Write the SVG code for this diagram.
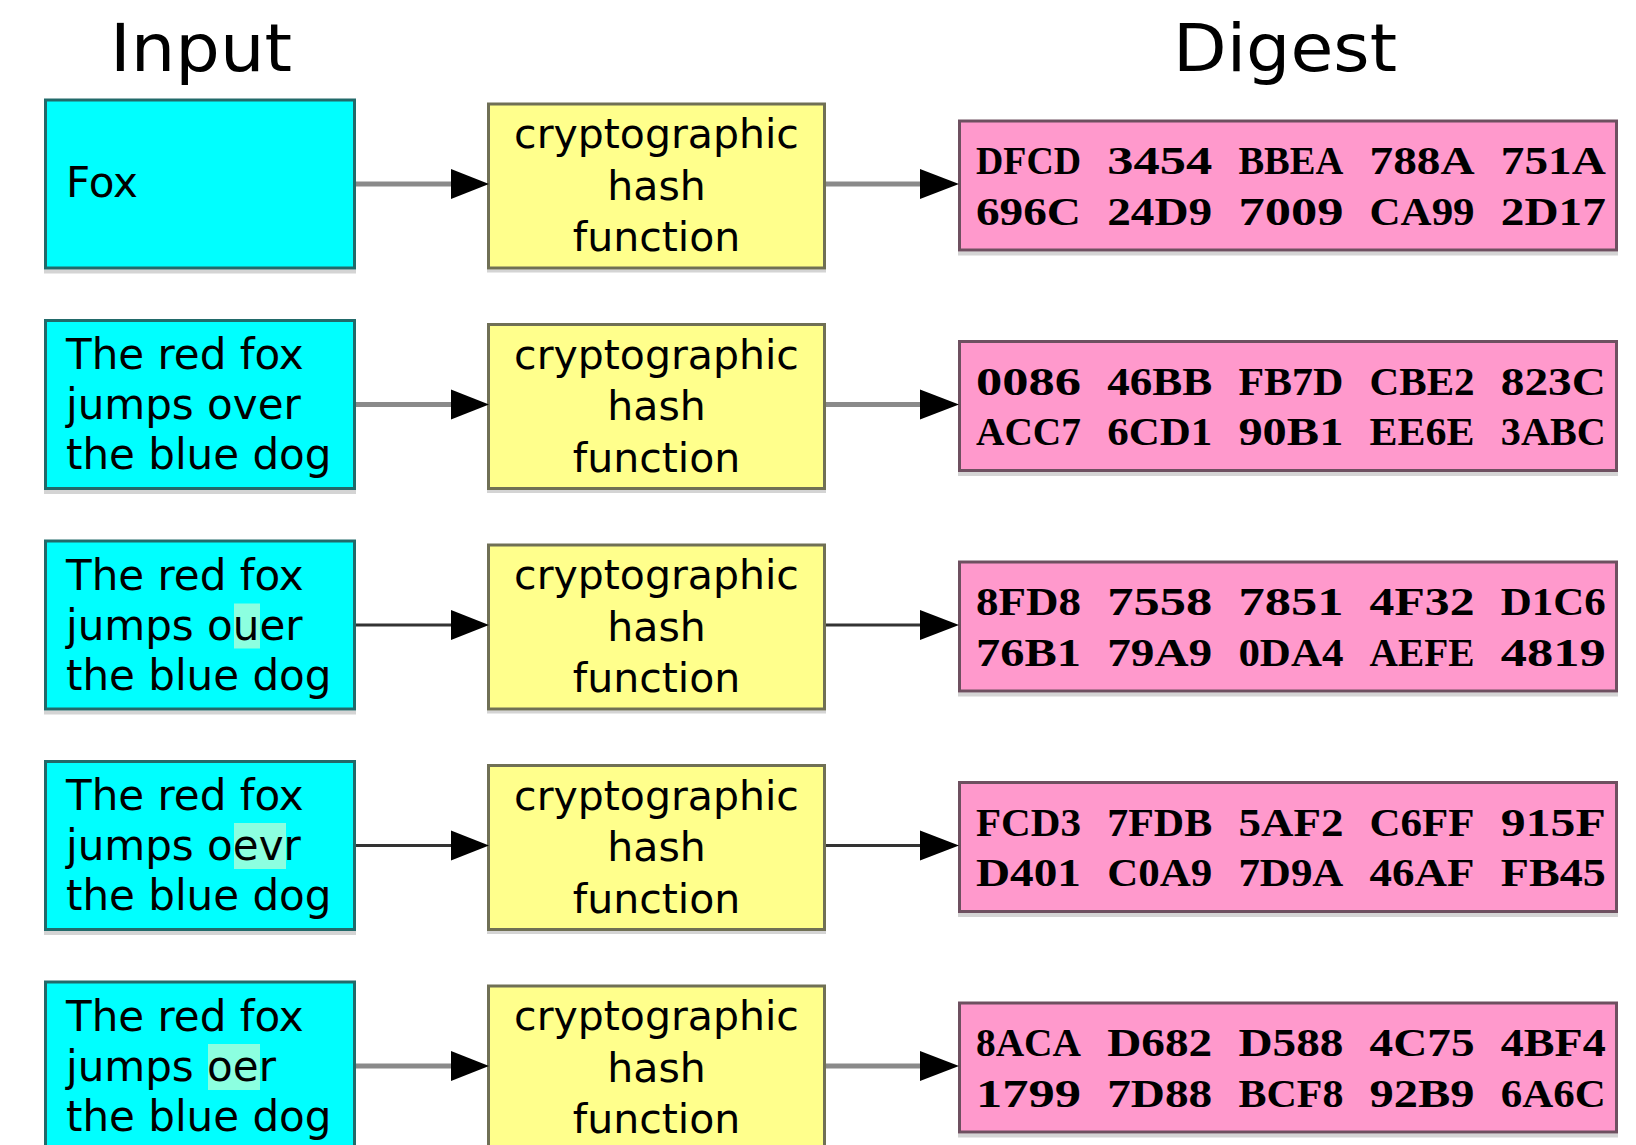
<svg xmlns="http://www.w3.org/2000/svg" width="1636" height="1145" viewBox="0 0 1636 1145">
<style>
.bg{fill:#ffffff}
.title{font-family:"DejaVu Sans","Liberation Sans",sans-serif;font-size:66px;fill:#000;text-anchor:middle}
.in{fill:#00ffff;stroke:#226a6a;stroke-width:3}
.fn{fill:#ffff8c;stroke:#707055;stroke-width:3}
.dg{fill:#ff99cc;stroke:#6e5060;stroke-width:3}
.sh{fill:#d4d4d4}
.t{font-family:"DejaVu Sans","Liberation Sans",sans-serif;font-size:42px;fill:#000}
.ft{font-family:"DejaVu Sans","Liberation Sans",sans-serif;font-size:41px;fill:#000;text-anchor:middle}
.hx{font-family:"Liberation Serif","Times New Roman",serif;font-size:40px;font-weight:bold;fill:#000}
.hl{fill:#8cffe0}
.lg{stroke:#8a8a8a;stroke-width:5;fill:none}
.ld{stroke:#333333;stroke-width:3;fill:none}
.head{fill:#000}
</style>
<rect class="bg" x="0" y="0" width="1636" height="1145"/>
<text class="title" x="201" y="71" textLength="182" lengthAdjust="spacingAndGlyphs">Input</text>
<text class="title" x="1285" y="71" textLength="224" lengthAdjust="spacingAndGlyphs">Digest</text>

<!-- Row 1 -->
<g id="input1" transform="translate(0,98.5)">
<rect class="sh" x="44" y="171" width="312" height="4"/>
<rect class="in" x="45.5" y="1.5" width="309" height="168"/>
<text class="t" x="66" y="98">Fox</text>
</g>
<g id="hash1" transform="translate(0,98.5)">
<rect class="sh" x="487" y="171" width="339" height="3"/>
<rect class="fn" x="488.5" y="5.5" width="336" height="164"/>
<text class="ft" x="656.5" y="49.5">cryptographic</text>
<text class="ft" x="656.5" y="101">hash</text>
<text class="ft" x="656.5" y="152.5">function</text>
</g>
<g id="digest1" transform="translate(0,98.5)">
<rect class="sh" x="958" y="153" width="660" height="4"/>
<rect class="dg" x="959.5" y="22.5" width="657" height="129"/>
<text class="hx" x="976" y="75.5" textLength="105" lengthAdjust="spacingAndGlyphs">DFCD</text>
<text class="hx" x="1107.2" y="75.5" textLength="105" lengthAdjust="spacingAndGlyphs">3454</text>
<text class="hx" x="1238.4" y="75.5" textLength="105" lengthAdjust="spacingAndGlyphs">BBEA</text>
<text class="hx" x="1369.6" y="75.5" textLength="105" lengthAdjust="spacingAndGlyphs">788A</text>
<text class="hx" x="1500.8" y="75.5" textLength="105" lengthAdjust="spacingAndGlyphs">751A</text>
<text class="hx" x="976" y="126" textLength="105" lengthAdjust="spacingAndGlyphs">696C</text>
<text class="hx" x="1107.2" y="126" textLength="105" lengthAdjust="spacingAndGlyphs">24D9</text>
<text class="hx" x="1238.4" y="126" textLength="105" lengthAdjust="spacingAndGlyphs">7009</text>
<text class="hx" x="1369.6" y="126" textLength="105" lengthAdjust="spacingAndGlyphs">CA99</text>
<text class="hx" x="1500.8" y="126" textLength="105" lengthAdjust="spacingAndGlyphs">2D17</text>
</g>

<!-- Row 2 -->
<g id="input2" transform="translate(0,319)">
<rect class="sh" x="44" y="171" width="312" height="4"/>
<rect class="in" x="45.5" y="1.5" width="309" height="168"/>
<text class="t" x="66" y="50">The red fox</text>
<text class="t" x="66" y="100">jumps over</text>
<text class="t" x="66" y="150">the blue dog</text>
</g>
<g id="hash2" transform="translate(0,319)">
<rect class="sh" x="487" y="171" width="339" height="3"/>
<rect class="fn" x="488.5" y="5.5" width="336" height="164"/>
<text class="ft" x="656.5" y="49.5">cryptographic</text>
<text class="ft" x="656.5" y="101">hash</text>
<text class="ft" x="656.5" y="152.5">function</text>
</g>
<g id="digest2" transform="translate(0,319)">
<rect class="sh" x="958" y="153" width="660" height="4"/>
<rect class="dg" x="959.5" y="22.5" width="657" height="129"/>
<text class="hx" x="976" y="75.5" textLength="105" lengthAdjust="spacingAndGlyphs">0086</text>
<text class="hx" x="1107.2" y="75.5" textLength="105" lengthAdjust="spacingAndGlyphs">46BB</text>
<text class="hx" x="1238.4" y="75.5" textLength="105" lengthAdjust="spacingAndGlyphs">FB7D</text>
<text class="hx" x="1369.6" y="75.5" textLength="105" lengthAdjust="spacingAndGlyphs">CBE2</text>
<text class="hx" x="1500.8" y="75.5" textLength="105" lengthAdjust="spacingAndGlyphs">823C</text>
<text class="hx" x="976" y="126" textLength="105" lengthAdjust="spacingAndGlyphs">ACC7</text>
<text class="hx" x="1107.2" y="126" textLength="105" lengthAdjust="spacingAndGlyphs">6CD1</text>
<text class="hx" x="1238.4" y="126" textLength="105" lengthAdjust="spacingAndGlyphs">90B1</text>
<text class="hx" x="1369.6" y="126" textLength="105" lengthAdjust="spacingAndGlyphs">EE6E</text>
<text class="hx" x="1500.8" y="126" textLength="105" lengthAdjust="spacingAndGlyphs">3ABC</text>
</g>

<!-- Row 3 -->
<g id="input3" transform="translate(0,539.5)">
<rect class="sh" x="44" y="171" width="312" height="4"/>
<rect class="in" x="45.5" y="1.5" width="309" height="168"/>
<rect class="hl" x="234" y="64" width="26" height="45"/>
<text class="t" x="66" y="50">The red fox</text>
<text class="t" x="66" y="100">jumps ouer</text>
<text class="t" x="66" y="150">the blue dog</text>
</g>
<g id="hash3" transform="translate(0,539.5)">
<rect class="sh" x="487" y="171" width="339" height="3"/>
<rect class="fn" x="488.5" y="5.5" width="336" height="164"/>
<text class="ft" x="656.5" y="49.5">cryptographic</text>
<text class="ft" x="656.5" y="101">hash</text>
<text class="ft" x="656.5" y="152.5">function</text>
</g>
<g id="digest3" transform="translate(0,539.5)">
<rect class="sh" x="958" y="153" width="660" height="4"/>
<rect class="dg" x="959.5" y="22.5" width="657" height="129"/>
<text class="hx" x="976" y="75.5" textLength="105" lengthAdjust="spacingAndGlyphs">8FD8</text>
<text class="hx" x="1107.2" y="75.5" textLength="105" lengthAdjust="spacingAndGlyphs">7558</text>
<text class="hx" x="1238.4" y="75.5" textLength="105" lengthAdjust="spacingAndGlyphs">7851</text>
<text class="hx" x="1369.6" y="75.5" textLength="105" lengthAdjust="spacingAndGlyphs">4F32</text>
<text class="hx" x="1500.8" y="75.5" textLength="105" lengthAdjust="spacingAndGlyphs">D1C6</text>
<text class="hx" x="976" y="126" textLength="105" lengthAdjust="spacingAndGlyphs">76B1</text>
<text class="hx" x="1107.2" y="126" textLength="105" lengthAdjust="spacingAndGlyphs">79A9</text>
<text class="hx" x="1238.4" y="126" textLength="105" lengthAdjust="spacingAndGlyphs">0DA4</text>
<text class="hx" x="1369.6" y="126" textLength="105" lengthAdjust="spacingAndGlyphs">AEFE</text>
<text class="hx" x="1500.8" y="126" textLength="105" lengthAdjust="spacingAndGlyphs">4819</text>
</g>

<!-- Row 4 -->
<g id="input4" transform="translate(0,760)">
<rect class="sh" x="44" y="171" width="312" height="4"/>
<rect class="in" x="45.5" y="1.5" width="309" height="168"/>
<rect class="hl" x="234" y="63" width="52" height="46"/>
<text class="t" x="66" y="50">The red fox</text>
<text class="t" x="66" y="100">jumps oevr</text>
<text class="t" x="66" y="150">the blue dog</text>
</g>
<g id="hash4" transform="translate(0,760)">
<rect class="sh" x="487" y="171" width="339" height="3"/>
<rect class="fn" x="488.5" y="5.5" width="336" height="164"/>
<text class="ft" x="656.5" y="49.5">cryptographic</text>
<text class="ft" x="656.5" y="101">hash</text>
<text class="ft" x="656.5" y="152.5">function</text>
</g>
<g id="digest4" transform="translate(0,760)">
<rect class="sh" x="958" y="153" width="660" height="4"/>
<rect class="dg" x="959.5" y="22.5" width="657" height="129"/>
<text class="hx" x="976" y="75.5" textLength="105" lengthAdjust="spacingAndGlyphs">FCD3</text>
<text class="hx" x="1107.2" y="75.5" textLength="105" lengthAdjust="spacingAndGlyphs">7FDB</text>
<text class="hx" x="1238.4" y="75.5" textLength="105" lengthAdjust="spacingAndGlyphs">5AF2</text>
<text class="hx" x="1369.6" y="75.5" textLength="105" lengthAdjust="spacingAndGlyphs">C6FF</text>
<text class="hx" x="1500.8" y="75.5" textLength="105" lengthAdjust="spacingAndGlyphs">915F</text>
<text class="hx" x="976" y="126" textLength="105" lengthAdjust="spacingAndGlyphs">D401</text>
<text class="hx" x="1107.2" y="126" textLength="105" lengthAdjust="spacingAndGlyphs">C0A9</text>
<text class="hx" x="1238.4" y="126" textLength="105" lengthAdjust="spacingAndGlyphs">7D9A</text>
<text class="hx" x="1369.6" y="126" textLength="105" lengthAdjust="spacingAndGlyphs">46AF</text>
<text class="hx" x="1500.8" y="126" textLength="105" lengthAdjust="spacingAndGlyphs">FB45</text>
</g>

<!-- Row 5 -->
<g id="input5" transform="translate(0,980.5)">
<rect class="in" x="45.5" y="1.5" width="309" height="168"/>
<rect class="hl" x="208" y="63.5" width="52" height="46"/>
<text class="t" x="66" y="50">The red fox</text>
<text class="t" x="66" y="100">jumps oer</text>
<text class="t" x="66" y="150">the blue dog</text>
</g>
<g id="hash5" transform="translate(0,980.5)">
<rect class="fn" x="488.5" y="5.5" width="336" height="164"/>
<text class="ft" x="656.5" y="49.5">cryptographic</text>
<text class="ft" x="656.5" y="101">hash</text>
<text class="ft" x="656.5" y="152.5">function</text>
</g>
<g id="digest5" transform="translate(0,980.5)">
<rect class="sh" x="958" y="153" width="660" height="4"/>
<rect class="dg" x="959.5" y="22.5" width="657" height="129"/>
<text class="hx" x="976" y="75.5" textLength="105" lengthAdjust="spacingAndGlyphs">8ACA</text>
<text class="hx" x="1107.2" y="75.5" textLength="105" lengthAdjust="spacingAndGlyphs">D682</text>
<text class="hx" x="1238.4" y="75.5" textLength="105" lengthAdjust="spacingAndGlyphs">D588</text>
<text class="hx" x="1369.6" y="75.5" textLength="105" lengthAdjust="spacingAndGlyphs">4C75</text>
<text class="hx" x="1500.8" y="75.5" textLength="105" lengthAdjust="spacingAndGlyphs">4BF4</text>
<text class="hx" x="976" y="126" textLength="105" lengthAdjust="spacingAndGlyphs">1799</text>
<text class="hx" x="1107.2" y="126" textLength="105" lengthAdjust="spacingAndGlyphs">7D88</text>
<text class="hx" x="1238.4" y="126" textLength="105" lengthAdjust="spacingAndGlyphs">BCF8</text>
<text class="hx" x="1369.6" y="126" textLength="105" lengthAdjust="spacingAndGlyphs">92B9</text>
<text class="hx" x="1500.8" y="126" textLength="105" lengthAdjust="spacingAndGlyphs">6A6C</text>
</g>

<g id="connectors">
<g transform="translate(0,98.5)">
<line class="lg" x1="356" y1="85.5" x2="455" y2="85.5"/><polygon class="head" points="451,70.5 489,85.5 451,100.5"/>
<line class="lg" x1="826" y1="85.5" x2="924" y2="85.5"/><polygon class="head" points="920,70.5 959,85.5 920,100.5"/>
</g>
<g transform="translate(0,319)">
<line class="lg" x1="356" y1="85.5" x2="455" y2="85.5"/><polygon class="head" points="451,70.5 489,85.5 451,100.5"/>
<line class="lg" x1="826" y1="85.5" x2="924" y2="85.5"/><polygon class="head" points="920,70.5 959,85.5 920,100.5"/>
</g>
<g transform="translate(0,539.5)">
<line class="ld" x1="356" y1="85.5" x2="455" y2="85.5"/><polygon class="head" points="451,70.5 489,85.5 451,100.5"/>
<line class="ld" x1="826" y1="85.5" x2="924" y2="85.5"/><polygon class="head" points="920,70.5 959,85.5 920,100.5"/>
</g>
<g transform="translate(0,760)">
<line class="ld" x1="356" y1="85.5" x2="455" y2="85.5"/><polygon class="head" points="451,70.5 489,85.5 451,100.5"/>
<line class="ld" x1="826" y1="85.5" x2="924" y2="85.5"/><polygon class="head" points="920,70.5 959,85.5 920,100.5"/>
</g>
<g transform="translate(0,980.5)">
<line class="lg" x1="356" y1="85.5" x2="455" y2="85.5"/><polygon class="head" points="451,70.5 489,85.5 451,100.5"/>
<line class="lg" x1="826" y1="85.5" x2="924" y2="85.5"/><polygon class="head" points="920,70.5 959,85.5 920,100.5"/>
</g>
</g>
</svg>
